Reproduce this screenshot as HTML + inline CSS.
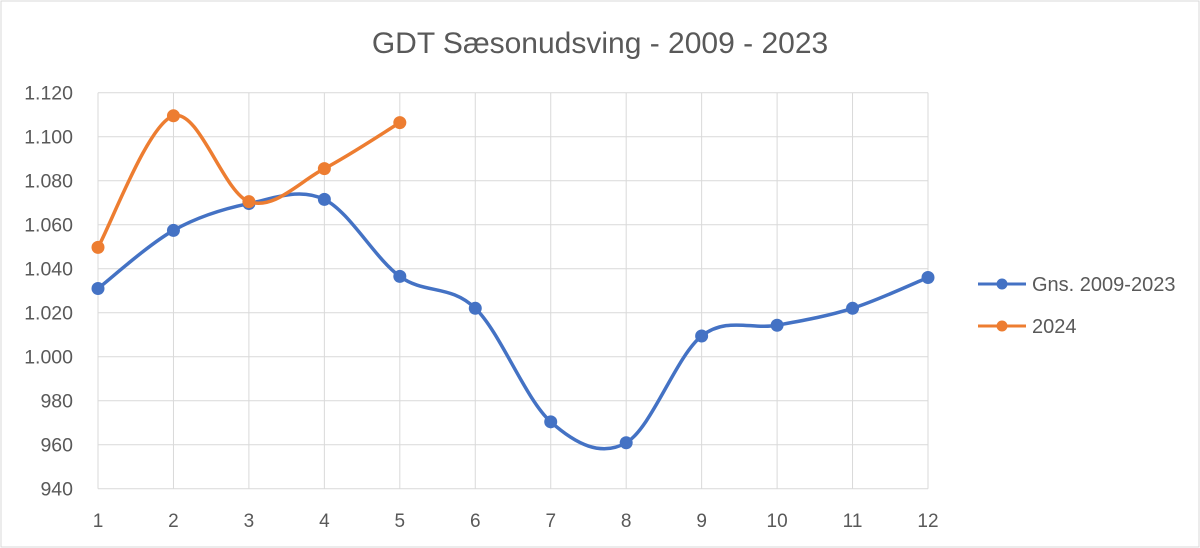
<!DOCTYPE html>
<html><head><meta charset="utf-8"><style>
body{margin:0;background:#fff;}
svg{display:block;font-family:"Liberation Sans",sans-serif;}
</style></head><body>
<svg id="chart" width="1200" height="548">
<rect x="1" y="1" width="1198" height="546" fill="#fff" stroke="#d9d9d9"/>
<text x="600" y="53" text-anchor="middle" font-size="30" fill="#595959">GDT Sæsonudsving - 2009 - 2023</text>
<g id="grid"></g><g id="series"></g>
<g>
<g><line x1="978" y1="284" x2="1026" y2="284" stroke="#4472c4" stroke-width="3"/><circle cx="1002" cy="284" r="5.5" fill="#4472c4"/><text x="1032" y="291" font-size="20" fill="#595959">Gns. 2009-2023</text></g>
<g><line x1="978" y1="326" x2="1026" y2="326" stroke="#ed7d31" stroke-width="3"/><circle cx="1002" cy="326" r="5.5" fill="#ed7d31"/><text x="1032" y="333" font-size="20" fill="#595959">2024</text></g>
</g>
</svg>
<script>
const categories=[1,2,3,4,5,6,7,8,9,10,11,12];
const avgValues=[1031,1057.4,1069.6,1071.5,1036.5,1022,970.4,960.9,1009.4,1014.3,1022,1036];
const y2024Values=[1049.7,1109.5,1070.5,1085.5,1106.4];
const yTicks=[940,960,980,1000,1020,1040,1060,1080,1100,1120];
const yTickLabels=["940","960","980","1.000","1.020","1.040","1.060","1.080","1.100","1.120"];
const X0=98,X1=928,Y0=488.7,Y1=92.7,ymin=940,ymax=1120;
const xs=i=>X0+(i)*(X1-X0)/(categories.length-1);
const ys=v=>Y0-(v-ymin)/(ymax-ymin)*(Y0-Y1);
const NS="http://www.w3.org/2000/svg";
const grid=document.getElementById('grid'),ser=document.getElementById('series');
function mk(tag,attrs,parent){const e=document.createElementNS(NS,tag);for(const k in attrs)e.setAttribute(k,attrs[k]);parent.appendChild(e);return e;}
yTicks.forEach((t,i)=>{
 const l=mk('line',{x1:X0,x2:X1,y1:ys(t),y2:ys(t),stroke:'#d9d9d9','stroke-width':1},grid);
 
 
 const tx=mk('text',{x:73,y:ys(t)+7,'text-anchor':'end','font-size':19.5,fill:'#595959'},grid);
 tx.textContent=yTickLabels[i];
 
 
});
categories.forEach((c,i)=>{
 const l=mk('line',{x1:xs(i),x2:xs(i),y1:Y1,y2:Y0,stroke:'#d9d9d9','stroke-width':1},grid);
 
 
 const tx=mk('text',{x:xs(i),y:527,'text-anchor':'middle','font-size':19,fill:'#595959'},grid);
 tx.textContent=c;
 
 
});
function path(vals){
 const p=vals.map((v,i)=>[xs(i),ys(v)]);
 let d='M'+p[0][0]+','+p[0][1];
 for(let i=0;i<p.length-1;i++){
  const a=p[i-1]||p[i],b=p[i],c=p[i+1],e=p[i+2]||c;
  const c1=[b[0]+(c[0]-a[0])/6,b[1]+(c[1]-a[1])/6],c2=[c[0]-(e[0]-b[0])/6,c[1]-(e[1]-b[1])/6];
  d+=` C${c1[0]},${c1[1]} ${c2[0]},${c2[1]} ${c[0]},${c[1]}`;
 }
 return d;
}
function draw(vals,color,name){
 const pa=mk('path',{d:path(vals),fill:'none',stroke:color,'stroke-width':3.5},ser);
 
 
 vals.forEach((v,i)=>{
  const c=mk('circle',{cx:xs(i),cy:ys(v),r:6.5,fill:color},ser);
  
  
 });
}
draw(avgValues,'#4472c4','avg');
draw(y2024Values,'#ed7d31','series-2024');
</script>
</body></html>
